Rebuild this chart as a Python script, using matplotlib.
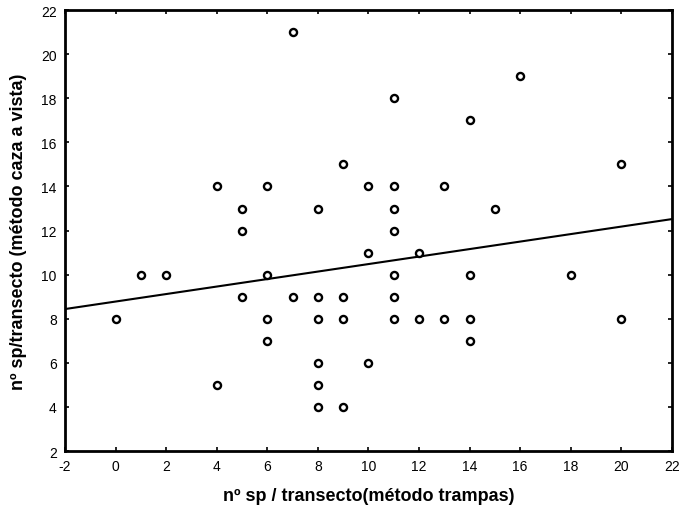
import matplotlib
matplotlib.use("Agg")
import matplotlib.pyplot as plt
import numpy as np

plt.rcParams['font.family'] = ['Liberation Sans', 'DejaVu Sans']
plt.rcParams['axes.unicode_minus'] = False

# species per transect: trap method (x) vs. visual-capture method (y)
trampas = [0, 1, 2, 4, 4, 5, 5, 5, 6, 6, 6, 6, 7, 7,
           8, 8, 8, 8, 8, 8, 9, 9, 9, 9, 10, 10, 10,
           11, 11, 11, 11, 11, 11, 11, 12, 12, 13, 13,
           14, 14, 14, 14, 15, 16, 18, 20, 20]
caza_vista = [8, 10, 10, 14, 5, 13, 12, 9, 14, 10, 8, 7, 21, 9,
              13, 9, 8, 6, 5, 4, 15, 9, 8, 4, 14, 11, 6,
              18, 14, 13, 12, 10, 9, 8, 11, 8, 14, 8,
              17, 10, 8, 7, 13, 19, 10, 15, 8]

# fitted linear regression
intercepto = 8.78
pendiente = 0.17

x_ticks = list(range(-2, 23, 2))
y_ticks = list(range(2, 23, 2))

fig = plt.figure(figsize=(6.8, 5.1), dpi=100)
ax = fig.add_axes([0.0956, 0.1137, 0.8924, 0.8645])

ax.scatter(trampas, caza_vista, s=26, facecolors='white', edgecolors='black',
           linewidths=1.7, zorder=3)

xl = np.array([-2, 22])
ax.plot(xl, intercepto + pendiente * xl, color='black', lw=1.5, zorder=2)

ax.set_xlim(-2, 22)
ax.set_ylim(2, 22)
ax.set_xticks(x_ticks)
ax.set_yticks(y_ticks)
ax.tick_params(direction='in', length=3, width=1.2, labelsize=10,
               top=True, right=True, pad=6)
for sp in ax.spines.values():
    sp.set_linewidth(2)

ax.set_xlabel('nº sp / transecto(método trampas)', fontsize=13,
              fontweight='bold', labelpad=10)
ax.set_ylabel('nº sp/transecto (método caza a vista)', fontsize=13,
              fontweight='bold', labelpad=10)

fig.savefig('out.png', dpi=100)
